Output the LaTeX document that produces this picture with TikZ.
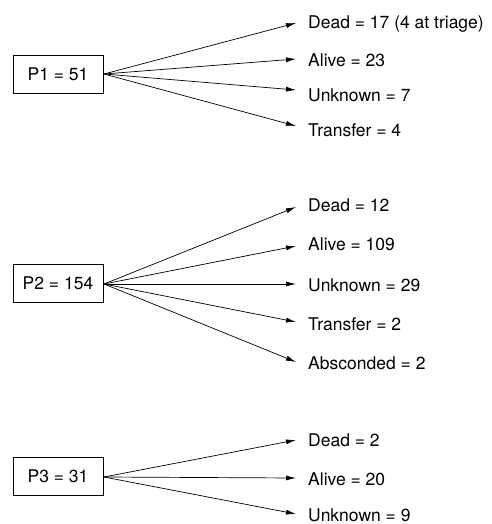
\documentclass[tikz,border=0pt]{standalone}
\usepackage{fontspec}
\setmainfont{TeX Gyre Heros}
\usetikzlibrary{arrows.meta}
\begin{document}
\begin{tikzpicture}[x=1pt,y=-1pt,
  pbox/.style={draw,line width=0.8pt,minimum width=90pt,minimum height=38pt,inner sep=0pt,font=\fontsize{17.5}{20}\selectfont},
  lbl/.style={anchor=west,inner sep=0pt,font=\fontsize{17.5}{20}\selectfont},
  arr/.style={line width=0.7pt,-{Latex[length=10pt,width=5pt]}}]
\useasboundingbox (0,0) rectangle (491,524);
% group 1
\node[pbox] (p1) at (58,74) {P1 = 51};
\coordinate (s1) at (104,74);
\coordinate (a11) at (296,23);
\coordinate (a12) at (296,59);
\coordinate (a13) at (296,90);
\coordinate (a14) at (296,126);
\node[lbl] (l11) at (308,24) {Dead = 17 (4 at triage)};
\node[lbl] (l12) at (308,60) {Alive = 23};
\node[lbl] (l13) at (308,95) {Unknown = 7};
\node[lbl] (l14) at (308,130) {Transfer = 4};
\foreach \i in {1,...,4} \draw[arr] (s1) -- (a1\i);
% group 2
\node[pbox] (p2) at (58,283) {P2 = 154};
\coordinate (s2) at (104,284);
\coordinate (a21) at (296,207);
\coordinate (a22) at (296,246);
\coordinate (a23) at (296,284);
\coordinate (a24) at (296,322);
\coordinate (a25) at (296,362);
\node[lbl] (l21) at (308,205) {Dead = 12};
\node[lbl] (l22) at (308,244) {Alive = 109};
\node[lbl] (l23) at (308,285) {Unknown = 29};
\node[lbl] (l24) at (308,324) {Transfer = 2};
\node[lbl] (l25) at (308,363) {Absconded = 2};
\foreach \i in {1,...,5} \draw[arr] (s2) -- (a2\i);
% group 3
\node[pbox] (p3) at (58,476) {P3 = 31};
\coordinate (s3) at (104,477);
\coordinate (a31) at (296,440);
\coordinate (a32) at (296,478);
\coordinate (a33) at (296,514);
\node[lbl] (l31) at (308,440) {Dead = 2};
\node[lbl] (l32) at (308,479) {Alive = 20};
\node[lbl] (l33) at (308,515) {Unknown = 9};
\foreach \i in {1,...,3} \draw[arr] (s3) -- (a3\i);
\end{tikzpicture}
\end{document}
